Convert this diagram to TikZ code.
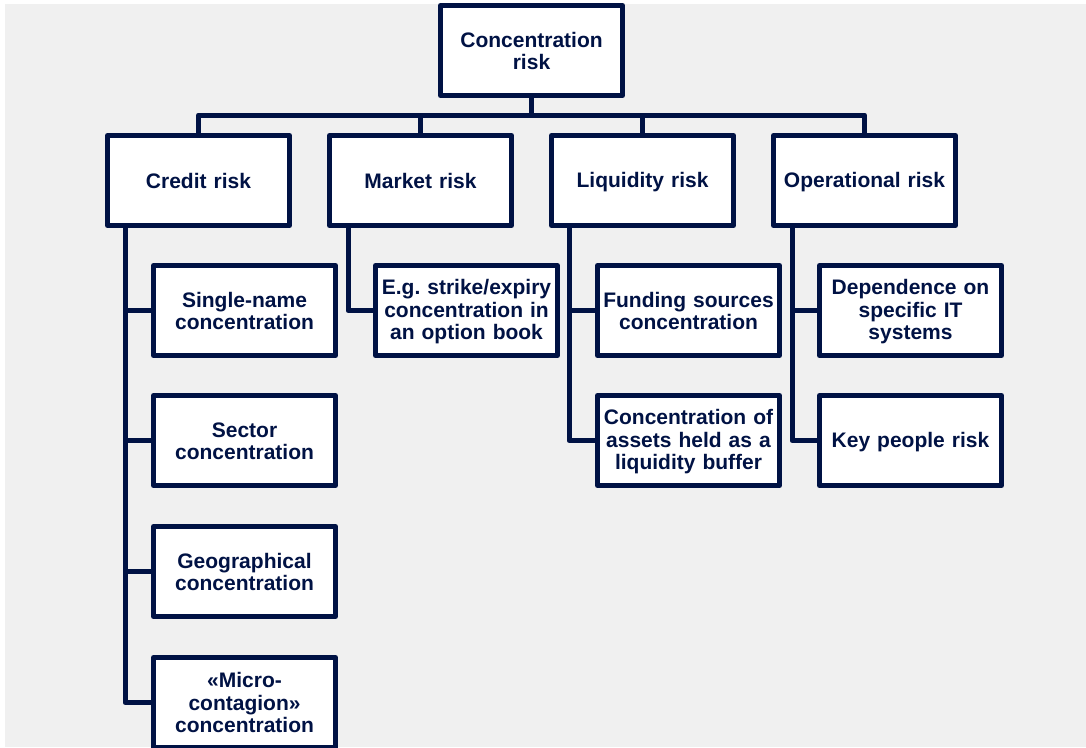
\documentclass[tikz,border=0pt]{standalone}
\usepackage{fontspec}
\setmainfont{Liberation Sans}
\definecolor{navy}{RGB}{0,18,68}
\definecolor{bg}{RGB}{240,240,240}
\newcommand\boxstrut{\rule[-2pt]{0pt}{19.5pt}}
\begin{document}
\frenchspacing
\begin{tikzpicture}[x=1pt,y=-1pt,
  box/.style={draw=navy, line width=5pt, fill=white, line join=round, text=navy,
    font=\bfseries\fontsize{21}{22.5}\selectfont, align=center, text width=182pt,
    inner sep=0pt, minimum height=90pt, outer sep=0pt,
    execute at begin node=\boxstrut, execute at end node=\boxstrut},
  link/.style={draw=navy, line width=5pt, line join=round}]
\useasboundingbox (0,0) rectangle (1086,747);
\clip (0,0) rectangle (1086,747);
\fill[bg] (5,4) rectangle (1086,747);

\node[box] (top) at (531.5,50.5) {Concentration\\risk};

\node[box] (credit) at (198.5,180.5) {Credit risk};
\node[box] (market) at (420.5,180.5) {Market risk};
\node[box] (liq) at (642.5,180.5) {Liquidity risk};
\node[box] (oper) at (864.5,180.5) {Operational risk};

\node[box] (c1) at (244.5,310.5) {Single-name\\concentration};
\node[box] (c2) at (244.5,440.5) {Sector\\concentration};
\node[box] (c3) at (244.5,571.5) {Geographical\\concentration};
\node[box] (c4) at (244.5,702.5) {«Micro-\\contagion»\\concentration};

\node[box] (m1) at (466.5,310.5) {E.g. strike/expiry\\concentration in\\an option book};

\node[box] (l1) at (688.5,310.5) {Funding sources\\concentration};
\node[box] (l2) at (688.5,440.5) {Concentration of\\assets held as a\\liquidity buffer};

\node[box] (o1) at (910.5,310.5) {Dependence on\\specific IT\\systems};
\node[box] (o2) at (910.5,440.5) {Key people risk};

\coordinate (bus) at (531.5,115);
\draw[link] (top.south) -- (bus);
\draw[link] (credit.north) |- (bus) -| (oper.north);
\draw[link] (market.north) -- (market.north |- bus);
\draw[link] (liq.north) -- (liq.north |- bus);

\draw[link] ([xshift=17.5pt]credit.south west) |- (c4.west);
\draw[link] ([xshift=17.5pt]credit.south west) |- (c1.west);
\draw[link] ([xshift=17.5pt]credit.south west) |- (c2.west);
\draw[link] ([xshift=17.5pt]credit.south west) |- (c3.west);

\draw[link] ([xshift=18.5pt]market.south west) |- (m1.west);

\draw[link] ([xshift=17.5pt]liq.south west) |- (l2.west);
\draw[link] ([xshift=17.5pt]liq.south west) |- (l1.west);

\draw[link] ([xshift=18.5pt]oper.south west) |- (o2.west);
\draw[link] ([xshift=18.5pt]oper.south west) |- (o1.west);
\end{tikzpicture}
\end{document}
